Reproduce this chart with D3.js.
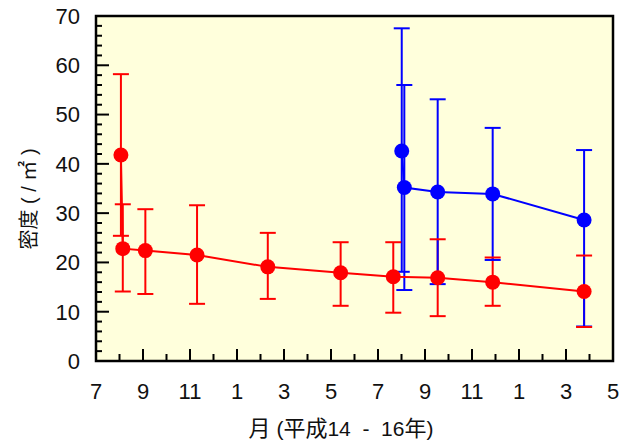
<!DOCTYPE html>
<html>
<head>
<meta charset="utf-8">
<script src="https://cdn.jsdelivr.net/npm/d3@7"></script>
<style>
  body { margin: 0; background: #fff; }
  svg text { font-family: "Liberation Sans", Arial, "Noto Sans CJK JP", sans-serif; fill: #111; }
</style>
</head>
<body>
<svg id="grafico" width="631" height="444"></svg>
<script>
// month index: 0 = July H14, 22 = May H16
const red_mes   = [1.06, 1.14, 2.1, 4.3, 7.31, 10.41, 12.65, 14.54, 16.88, 20.77];
const red_val   = [41.8, 22.8, 22.4, 21.5, 19.1, 17.9, 17.1, 16.9, 16.0, 14.1];
const red_sup   = [58.2, 31.8, 30.8, 31.6, 26.0, 24.1, 24.1, 24.7, 21.0, 21.4];
const red_inf   = [25.4, 14.1, 13.6, 11.6, 12.6, 11.2, 9.8, 9.1, 11.2, 6.9];

const azul_mes  = [13.01, 13.12, 14.54, 16.88, 20.77];
const azul_val  = [42.6, 35.2, 34.3, 33.9, 28.6];
const azul_sup  = [67.5, 56.0, 53.1, 47.3, 42.8];
const azul_inf  = [18.1, 14.4, 15.6, 20.5, 7.0];

const x_rotulos = ["7", "9", "11", "1", "3", "5", "7", "9", "11", "1", "3", "5"];
const y_ticks   = [0, 10, 20, 30, 40, 50, 60, 70];

const $svg = d3.select("#grafico");

const L = 96, R = 613, T = 16, B = 361;

const x = d3.scaleLinear().domain([0, 22]).range([L, R]);
const y = d3.scaleLinear().domain([0, 70]).range([B, T]);

// fundo
$svg.append("rect")
    .attr("x", L).attr("y", T)
    .attr("width", R - L).attr("height", B - T)
    .attr("fill", "#ffffdc");

// ticks do eixo y (para dentro)
const y_minor = d3.range(0, 71, 2);
$svg.append("g").selectAll("line")
    .data(y_minor)
    .join("line")
    .attr("x1", L).attr("x2", d => L + (d % 10 === 0 ? 13 : 6))
    .attr("y1", d => y(d)).attr("y2", d => y(d))
    .attr("stroke", "#000").attr("stroke-width", 2);

$svg.append("g").selectAll("text")
    .data(y_ticks)
    .join("text")
    .attr("x", L - 16)
    .attr("y", d => y(d))
    .attr("dy", "0.36em")
    .attr("text-anchor", "end")
    .attr("font-size", 22)
    .text(d => d);

// ticks do eixo x (para dentro)
const x_minor = d3.range(0, 23, 1);
$svg.append("g").selectAll("line")
    .data(x_minor)
    .join("line")
    .attr("x1", d => x(d)).attr("x2", d => x(d))
    .attr("y1", B).attr("y2", d => B - (d % 2 === 0 ? 12 : 7))
    .attr("stroke", "#000").attr("stroke-width", 2);

$svg.append("g").selectAll("text")
    .data(x_rotulos)
    .join("text")
    .attr("x", (d, i) => x(i * 2))
    .attr("y", 399)
    .attr("text-anchor", "middle")
    .attr("font-size", 22)
    .text(d => d);

// moldura
$svg.append("rect")
    .attr("x", L).attr("y", T)
    .attr("width", R - L).attr("height", B - T)
    .attr("fill", "none")
    .attr("stroke", "#000").attr("stroke-width", 2.5);

// rótulos dos eixos
const xlab = $svg.append("text")
    .attr("x", 341).attr("y", 436)
    .attr("text-anchor", "middle")
    .attr("font-size", 21)
    .style("white-space", "pre");
xlab.append("tspan").attr("font-size", 22).text("月");
xlab.append("tspan").text(" (");
xlab.append("tspan").attr("font-size", 22).text("平成");
xlab.append("tspan").text("14  -  16");
xlab.append("tspan").attr("font-size", 22).text("年");
xlab.append("tspan").text(")");

$svg.append("text")
    .attr("transform", "translate(36,199) rotate(-90)")
    .attr("text-anchor", "middle")
    .attr("font-size", 20)
    .style("white-space", "pre")
    .text("密度 ( / ㎡ )");

function serie(mes, val, sup, inf) {
    return mes.map((m, i) => ({ m: m, v: val[i], s: sup[i], n: inf[i] }));
}

const dados_red  = serie(red_mes, red_val, red_sup, red_inf);
const dados_azul = serie(azul_mes, azul_val, azul_sup, azul_inf);

function verticais(dados, cor) {
    $svg.append("g").attr("stroke", cor).attr("stroke-width", 2)
        .selectAll("line").data(dados).join("line")
        .attr("x1", d => x(d.m)).attr("x2", d => x(d.m))
        .attr("y1", d => y(d.s)).attr("y2", d => y(d.n));
}

function tampas(dados, cor) {
    const g = $svg.append("g").attr("stroke", cor).attr("stroke-width", 2);
    g.selectAll(".cs").data(dados).join("line").attr("class", "cs")
        .attr("x1", d => x(d.m) - 8).attr("x2", d => x(d.m) + 8)
        .attr("y1", d => y(d.s)).attr("y2", d => y(d.s));
    g.selectAll(".ci").data(dados).join("line").attr("class", "ci")
        .attr("x1", d => x(d.m) - 8).attr("x2", d => x(d.m) + 8)
        .attr("y1", d => y(d.n)).attr("y2", d => y(d.n));
}

function linha(dados, cor) {
    const line = d3.line().x(d => x(d.m)).y(d => y(d.v));
    $svg.append("path")
        .datum(dados)
        .attr("d", line)
        .attr("fill", "none")
        .attr("stroke", cor)
        .attr("stroke-width", 2);
    $svg.append("g").selectAll("circle")
        .data(dados)
        .join("circle")
        .attr("cx", d => x(d.m))
        .attr("cy", d => y(d.v))
        .attr("r", 7.5)
        .attr("fill", cor);
}

verticais(dados_red, "#ff0000");
verticais(dados_azul, "#0000ff");
tampas(dados_azul, "#0000ff");
tampas(dados_red, "#ff0000");
linha(dados_azul, "#0000ff");
linha(dados_red, "#ff0000");
</script>
</body>
</html>
